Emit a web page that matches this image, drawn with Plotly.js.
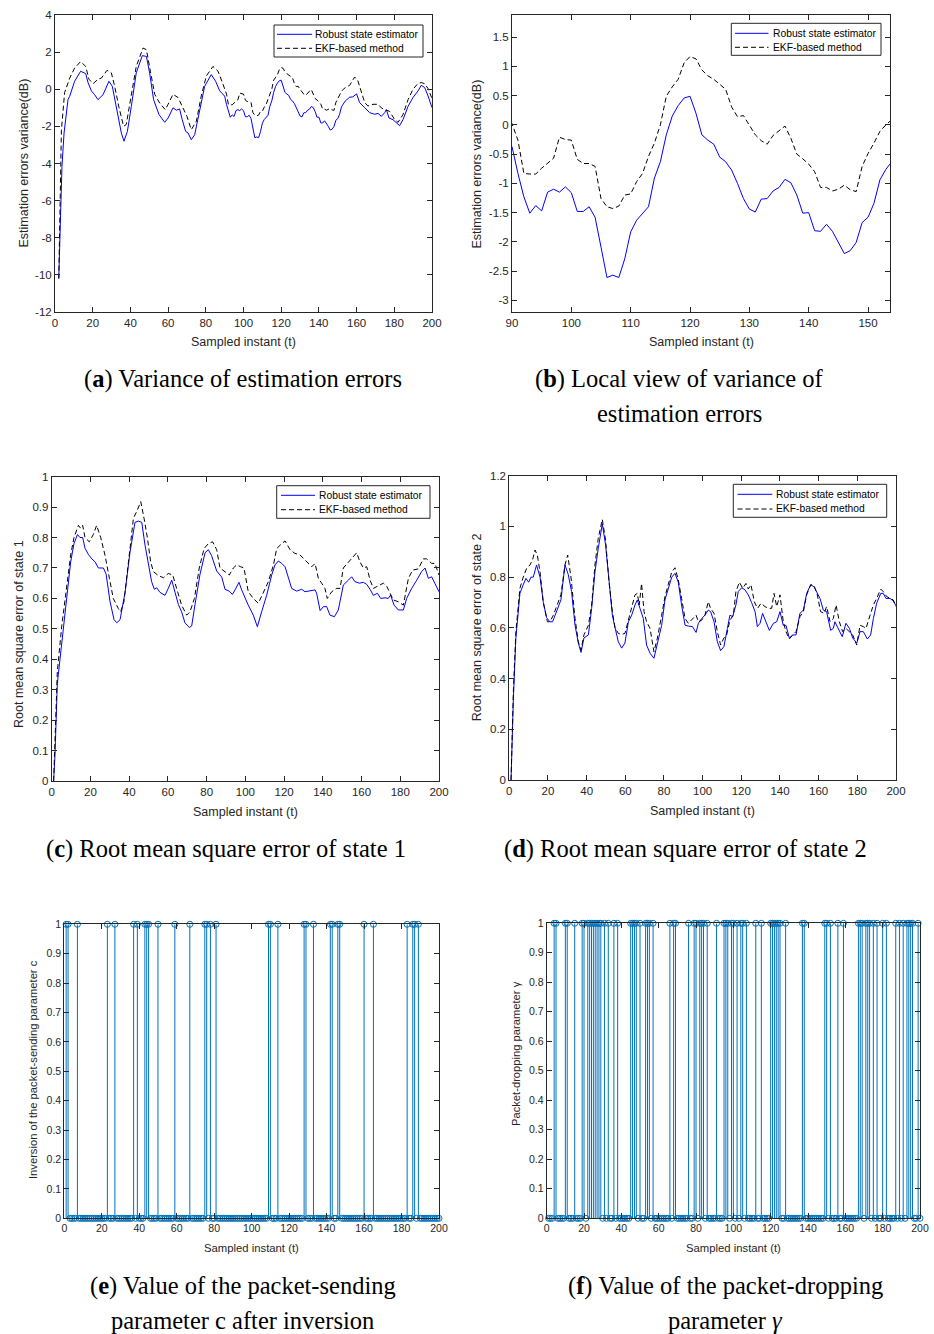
<!DOCTYPE html>
<html><head><meta charset="utf-8">
<script src="https://cdn.plot.ly/plotly-3.0.1.min.js"></script>
<style>html,body{margin:0;padding:0;background:#fff}</style>
</head><body><div id="chart" style="width:934px;height:1334px"></div>
<script>
// ---------- (a)/(b) variance of estimation errors (dB) ----------
const varRobustT = [
2, 3.7, 4.8, 6.9, 7.8, 10.4, 13.6, 16.3, 17.5, 19.3,
21, 22.8, 25.5, 28.6, 30.4, 32.9, 35.2, 36.6, 38.4, 40.5,
43.1, 46.3, 48.5, 50.2, 52.3, 55.2, 58.2, 60, 62.6, 64.4,
66.1, 67.5, 69.3, 70.6, 72.3, 74.1, 76.7, 79.4, 82.9, 85.2,
87.4, 89.5,
90, 91, 92, 93, 94, 95, 96, 97, 98, 99,
100, 101, 102, 103, 104, 105, 106, 107, 108, 109,
110, 111, 112, 113, 114, 115, 116, 117, 118, 119,
120, 121, 122, 123, 124, 125, 126, 127, 128, 129,
130, 131, 132, 133, 134, 135, 136, 137, 138, 139,
140, 141, 142, 143, 144, 145, 146, 147, 148, 149,
150, 151, 152, 153, 154,
156.3, 158, 160, 161.6, 164.3, 166.9, 169.6, 171.4, 173.1, 174.9,
175.8, 177.2, 179.3, 181.1, 182.8, 184.6, 187.3, 189.9, 192.6, 194.3,
196.1, 197.9, 200];
const varRobustY = [
-10.2, -4.15, -2.36, -0.56, -0.38, 0.43, 0.97, 0.84, 0.37, -0.09,
-0.29, -0.56, -0.29, 0.43, 0.16, -1.1, -2.36, -2.8, -2.27, -0.92,
0.88, 1.81, 1.77, 0.88, -0.56, -1.37, -1.78, -1.55, -1.0, -1.13,
-1.06, -1.64, -2.27, -2.36, -2.72, -2.45, -1.1, 0.16, 0.79, 0.43,
-0.09, -0.36,
-0.37, -0.83, -1.23, -1.51, -1.38, -1.47, -1.15, -1.10, -1.15, -1.06,
-1.16, -1.48, -1.48, -1.40, -1.58, -2.09, -2.61, -2.57, -2.61, -2.29,
-1.83, -1.63, -1.51, -1.40, -0.91, -0.63, -0.17, 0.15, 0.33, 0.46,
0.49, 0.2, -0.17, -0.26, -0.33, -0.55, -0.63, -0.77, -1.0, -1.26,
-1.44, -1.49, -1.27, -1.26, -1.13, -1.07, -0.93, -0.99, -1.2, -1.51,
-1.50, -1.81, -1.82, -1.70, -1.82, -2.0, -2.2, -2.15, -2.01, -1.67,
-1.58, -1.34, -0.94, -0.76, -0.63,
-0.43, -0.41, -0.25, -0.72, -0.99, -1.26, -1.35, -1.30, -1.46, -1.26,
-1.1, -1.55, -1.64, -1.82, -1.96, -1.64, -0.92, -0.45, -0.09, 0.21,
0.09, -0.36, -0.99];
const varEkfT = [
2, 3, 3.4, 5.1, 7.8, 10.4, 13.6, 16.3, 18, 20.2,
22.8, 24.6, 27.6, 29.9, 31.7, 34, 36.4, 37.8, 40.5, 43.1,
46.7, 48.5, 50.6, 52.9, 55.5, 58.5, 59.9, 62.6, 65.3, 67.6,
70, 72.3, 75, 77.6, 80.3, 83.8, 86.5, 88.8,
90, 91, 92, 93, 94, 95, 96, 97, 98, 99,
100, 101, 102, 103, 104, 105, 106, 107, 108, 109,
110, 111, 112, 113, 114, 115, 116, 117, 118, 119,
120, 121, 122, 123, 124, 125, 126, 127, 128, 129,
130, 131, 132, 133, 134, 135, 136, 137, 138, 139,
140, 141, 142, 143, 144, 145, 146, 147, 148, 149,
150, 151, 152, 153, 154,
156.3, 159, 160.7, 162.5, 164.3, 166, 168.7, 171.4, 173.1, 174.9,
177.5, 180.2, 182, 184.6, 187.3, 189.9, 192.6, 194.3, 196.1, 197.9, 200];
const varEkfY = [
-10.2, -4.15, -2.2, -0.18, 0.6, 1.14, 1.49, 1.23, 0.54, 0.3,
0.54, 0.6, 1.02, 0.88, 0.14, -1.0, -2.0, -1.9, -0.36, 1.23,
2.22, 2.13, 0.97, -0.27, -0.74, -1.1, -0.83, -0.27, -0.45, -0.92,
-1.46, -2.18, -1.72, -0.36, 0.72, 1.23, 0.97, 0.36,
0.02, -0.26, -0.83, -0.84, -0.84, -0.74, -0.66, -0.57, -0.21, -0.25,
-0.26, -0.59, -0.66, -0.66, -0.71, -1.26, -1.4, -1.43, -1.39, -1.2,
-1.18, -0.97, -0.83, -0.54, -0.31, 0, 0.49, 0.65, 0.78, 1.06,
1.17, 1.13, 0.94, 0.84, 0.78, 0.69, 0.61, 0.31, 0.14, 0.16,
0, -0.17, -0.27, -0.33, -0.18, -0.10, -0.02, -0.23, -0.5, -0.58,
-0.67, -0.8, -1.07, -1.07, -1.13, -1.10, -1.03, -1.11, -1.14, -0.71,
-0.49, -0.31, -0.11, 0, 0.09,
0.21, 0.66, 0.45, -0.18, -0.72, -0.9, -0.81, -0.81, -1.0, -1.1,
-1.19, -1.64, -1.78, -1.37, -0.56, 0, 0.32, 0.36, 0.3, 0.04, -0.5];

// ---------- (c) RMSE of state 1 ----------
const rmse1RobustT = [
1, 1.7, 2.9, 5.2, 7.7, 9.8, 11.5, 13.3, 14.6, 16,
17.2, 18.9, 20.7, 22.4, 24.1, 26.7, 28.1, 30.1, 32.2, 33.6,
35.3, 37.9, 40.4, 43, 44.8, 46.5, 48.2, 49.9, 51.6, 53,
54.2, 55.9, 58.5, 60.2, 62, 63.7, 65.4, 67.1, 68.8, 71.1,
72.3, 74, 76.6, 79.2, 80.9, 82.6, 85.2, 87.8, 89.5, 91.7,
93.3, 94.7, 96.7, 98.1, 99.8, 101.5, 104.1, 106.2, 108.4, 111,
113.6, 115.3, 117, 118.8, 120.5, 122.2, 123.9, 126.5, 129.1, 130.8,
133.4, 136, 136.8, 138.6, 140.3, 142, 143.7, 146, 148, 150.6,
153.2, 154.9, 156.6, 158.9, 160.9, 162.7, 164.4, 166.1, 168.2, 169.9,
172.1, 173.8, 175, 176.8, 179, 181.6, 183.3, 185.9, 188.5, 191,
192.8, 194.5, 196.2, 197.9, 200];
const rmse1RobustY = [
0, 0.085, 0.32, 0.45, 0.6, 0.72, 0.78, 0.81, 0.80, 0.80,
0.765, 0.745, 0.73, 0.72, 0.70, 0.70, 0.68, 0.59, 0.53, 0.52,
0.53, 0.62, 0.75, 0.85, 0.854, 0.85, 0.775, 0.71, 0.655, 0.63,
0.635, 0.62, 0.61, 0.633, 0.66, 0.62, 0.58, 0.556, 0.52, 0.504,
0.51, 0.58, 0.68, 0.75, 0.76, 0.74, 0.69, 0.67, 0.63, 0.624,
0.613, 0.628, 0.653, 0.628, 0.60, 0.578, 0.545, 0.507, 0.556, 0.61,
0.677, 0.71, 0.723, 0.715, 0.704, 0.666, 0.633, 0.624, 0.63, 0.622,
0.624, 0.628, 0.617, 0.56, 0.573, 0.573, 0.545, 0.54, 0.562, 0.644,
0.66, 0.671, 0.655, 0.65, 0.653, 0.646, 0.63, 0.61, 0.617, 0.60,
0.602, 0.60, 0.611, 0.578, 0.562, 0.562, 0.60, 0.633, 0.66, 0.688,
0.70, 0.666, 0.671, 0.65, 0.622];
const rmse1EkfT = [
1, 1.7, 2.9, 5.2, 7.7, 9.8, 11.5, 13.8, 15, 16,
17.2, 19.4, 21.5, 23.2, 25.3, 27.5, 29.8, 31.8, 34.4, 35.6,
37.3, 39.6, 42.2, 44.2, 46, 47.7, 49.4, 51.1, 52.5, 55.1,
57.7, 60.2, 62.5, 64.5, 67.1, 69.7, 71.4, 73.7, 76.2, 78.7,
80.9, 83.1, 85.2, 86.9, 89, 91.7, 93.8, 95.5, 97.6, 99.3,
101.5, 104.1, 106.7, 109.3, 111.9, 114.5, 116.2, 118.8, 120.5, 123.1,
125.6, 128.2, 130.8, 132.5, 134.3, 136, 137.7, 139.4, 141.1, 142.3,
144.6, 147.2, 148.9, 150.6, 153.2, 155.8, 157.5, 159.2, 160.9, 162.7,
164.4, 166.1, 168.7, 171.3, 173, 174.7, 176.4, 179, 181.6, 184.2,
186.4, 189.3, 191.9, 193.6, 196.2, 197.9, 200];
const rmse1EkfY = [
0, 0.16, 0.36, 0.51, 0.633, 0.743, 0.80, 0.84, 0.83, 0.84,
0.80, 0.786, 0.81, 0.84, 0.80, 0.743, 0.666, 0.60, 0.567, 0.556,
0.589, 0.71, 0.863, 0.89, 0.918, 0.863, 0.80, 0.72, 0.688, 0.675,
0.668, 0.682, 0.677, 0.633, 0.578, 0.545, 0.556, 0.60, 0.70, 0.764,
0.78, 0.786, 0.76, 0.70, 0.69, 0.677, 0.70, 0.71, 0.704, 0.70,
0.622, 0.60, 0.584, 0.617, 0.655, 0.71, 0.764, 0.78, 0.789, 0.76,
0.748, 0.743, 0.726, 0.715, 0.704, 0.715, 0.666, 0.65, 0.633, 0.60,
0.622, 0.633, 0.633, 0.70, 0.72, 0.737, 0.75, 0.72, 0.70, 0.704,
0.66, 0.633, 0.642, 0.65, 0.64, 0.617, 0.595, 0.589, 0.578, 0.666,
0.693, 0.697, 0.73, 0.73, 0.715, 0.715, 0.677];

// ---------- (d) RMSE of state 2 ----------
const rmse2RobustT = [
0.9, 2.1, 3.4, 5.5, 7.2, 8.6, 10, 11.2, 12.4, 14.1,
15.9, 17.6, 19.3, 21, 22.4, 24.5, 26.7, 28.8, 30.5, 32.2,
34, 35.7, 37.1, 38.6, 40.9, 42.6, 44.3, 46, 48.1, 49.8,
51.6, 53.3, 54.7, 56.4, 58.1, 59.8, 61.6, 63.3, 65, 66.2,
67.6, 69.3, 71, 72.8, 74.8, 76.6, 78.8, 80.5, 82.2, 84,
85.7, 87.4, 89.1, 90.9, 92.6, 94.7, 96.6, 97.8, 99.5, 101.2,
102.9, 104.1, 105.9, 107.6, 109.3, 111, 112.8, 114.1, 115.5, 117.2,
118.4, 120.2, 121.9, 123.6, 125.3, 127.1, 128.3, 129.7, 131, 132.8,
134.5, 136.6, 138.3, 140, 141.7, 143.1, 144.8, 146.6, 148.3, 150.3,
152.1, 153.8, 155.9, 157.6, 159.3, 160.7, 162.4, 164.1, 166.2, 167.6,
168.4, 170.2, 172.2, 174.1, 175.9, 177.6, 179.7, 181.4, 183.1, 185.2,
186.9, 188.3, 190, 192.1, 193.4, 194.8, 196.9, 198.6, 200];
const rmse2RobustY = [
0, 0.32, 0.56, 0.736, 0.77, 0.795, 0.78, 0.80, 0.80, 0.848,
0.80, 0.70, 0.64, 0.624, 0.624, 0.67, 0.71, 0.848, 0.81, 0.743,
0.61, 0.54, 0.503, 0.56, 0.572, 0.677, 0.82, 0.913, 1.01, 0.927,
0.77, 0.65, 0.60, 0.545, 0.52, 0.54, 0.624, 0.65, 0.69, 0.71,
0.677, 0.637, 0.532, 0.50, 0.48, 0.54, 0.61, 0.71, 0.75, 0.80,
0.815, 0.78, 0.69, 0.61, 0.607, 0.605, 0.582, 0.618, 0.637, 0.65,
0.67, 0.664, 0.624, 0.545, 0.51, 0.526, 0.598, 0.65, 0.644, 0.69,
0.743, 0.758, 0.75, 0.73, 0.70, 0.664, 0.605, 0.618, 0.657, 0.624,
0.59, 0.618, 0.624, 0.664, 0.61, 0.61, 0.56, 0.572, 0.572, 0.657,
0.67, 0.736, 0.77, 0.762, 0.736, 0.716, 0.67, 0.664, 0.59, 0.598,
0.624, 0.598, 0.565, 0.618, 0.598, 0.56, 0.54, 0.585, 0.585, 0.556,
0.572, 0.637, 0.697, 0.736, 0.736, 0.716, 0.716, 0.706, 0.687];
const rmse2EkfT = [
0.9, 2.1, 3.4, 5.5, 7.2, 9, 10.7, 12.1, 13.3, 14.5,
15.9, 17.6, 19.7, 21, 22.8, 24.8, 26.7, 28.8, 30.2, 31.9,
34, 35.7, 37.1, 38.6, 40.9, 42.6, 44.3, 46, 48.1, 49.8,
51.6, 53.3, 54.7, 56.4, 58.1, 59.8, 61.6, 63.3, 65, 66.2,
67.2, 68.4, 69.7, 71, 72.8, 74.8, 76.6, 78.8, 80.5, 82.2,
84, 85.7, 87.4, 89.1, 90.9, 92.6, 94.7, 96.6, 97.8, 99.5,
101.2, 102.9, 104.1, 105.9, 107.6, 109.3, 111, 112.4, 114.1, 115.9,
117.2, 119, 120.7, 122.4, 123.6, 125, 126.7, 128.4, 130.2, 132.2,
134, 135.7, 136.9, 138.3, 140, 141.7, 143.1, 144.8, 146.6, 148.3,
150.3, 152.1, 153.8, 155.9, 157.6, 159.3, 161, 162.8, 164.1, 165.9,
167.6, 169, 170.7, 172.4, 174.1, 175.9, 177.6, 179.7, 181.4, 183.1,
184.5, 186.6, 188.3, 190, 192.1, 193.4, 195.2, 197.2, 198.6, 200];
const rmse2EkfY = [
0, 0.35, 0.585, 0.756, 0.80, 0.835, 0.848, 0.87, 0.907, 0.887,
0.82, 0.70, 0.624, 0.624, 0.65, 0.69, 0.73, 0.848, 0.887, 0.80,
0.637, 0.545, 0.513, 0.572, 0.61, 0.69, 0.848, 0.953, 1.028, 0.946,
0.78, 0.664, 0.60, 0.578, 0.574, 0.578, 0.63, 0.69, 0.73, 0.736,
0.69, 0.775, 0.664, 0.624, 0.598, 0.506, 0.56, 0.65, 0.723, 0.77,
0.82, 0.837, 0.79, 0.716, 0.637, 0.618, 0.637, 0.65, 0.624, 0.63,
0.65, 0.703, 0.677, 0.657, 0.585, 0.532, 0.56, 0.572, 0.63, 0.65,
0.743, 0.78, 0.756, 0.775, 0.753, 0.77, 0.703, 0.677, 0.697, 0.684,
0.677, 0.677, 0.736, 0.684, 0.73, 0.624, 0.585, 0.556, 0.572, 0.585,
0.644, 0.664, 0.73, 0.77, 0.767, 0.73, 0.664, 0.657, 0.684, 0.624,
0.637, 0.69, 0.624, 0.585, 0.598, 0.585, 0.572, 0.532, 0.61, 0.605,
0.598, 0.65, 0.69, 0.716, 0.753, 0.743, 0.723, 0.716, 0.71, 0.684];

// ---------- (e)/(f) stem data: sampled instants whose value is 1 (all others 0) ----------
const sampleFirst = 1, sampleLast = 200;
const sendingOnes = [1, 2, 7, 23, 27, 37, 39, 43, 44, 45, 50, 59, 67, 75, 76, 78, 81,
  109, 110, 114, 128, 129, 133, 142, 143, 146, 147, 160, 165, 183, 186, 187, 189];
const droppingOnes = [4, 5, 10, 11, 15, 19, 20, 22, 23, 24, 25, 26, 27, 28, 29, 31, 33, 36, 38,
  45, 46, 47, 48, 50, 53, 54, 55, 57, 66, 68, 69, 76, 79, 80, 82, 83, 84, 86, 91, 95, 96, 97,
  99, 100, 102, 104, 105, 107, 112, 115, 120, 121, 122, 123, 124, 125, 128, 137, 138, 149, 150,
  152, 156, 159, 167, 168, 169, 171, 172, 173, 175, 177, 180, 182, 187, 189, 191, 193, 194, 195, 196, 199];

// ---------- tick labels ----------
const tick200Vals = [0, 20, 40, 60, 80, 100, 120, 140, 160, 180, 200];
const tick200Text = ['0','20','40','60','80','100','120','140','160','180','200'];
const varYVals = [-12, -10, -8, -6, -4, -2, 0, 2, 4];
const varYText = ['-12','-10','-8','-6','-4','-2','0','2','4'];
const zoomXVals = [90, 100, 110, 120, 130, 140, 150];
const zoomXText = ['90','100','110','120','130','140','150'];
const zoomYVals = [-3, -2.5, -2, -1.5, -1, -0.5, 0, 0.5, 1, 1.5];
const zoomYText = ['-3','-2.5','-2','-1.5','-1','-0.5','0','0.5','1','1.5'];
const unitYVals = [0, 0.1, 0.2, 0.3, 0.4, 0.5, 0.6, 0.7, 0.8, 0.9, 1];
const unitYText = ['0','0.1','0.2','0.3','0.4','0.5','0.6','0.7','0.8','0.9','1'];
const rmse2YVals = [0, 0.2, 0.4, 0.6, 0.8, 1, 1.2];
const rmse2YText = ['0','0.2','0.4','0.6','0.8','1','1.2'];

const seriesNames = ['Robust state estimator', 'EKF-based method'];

// ---------- layout helpers ----------
const W = 934, H = 1334;
const px = v => v / W;
const py = v => 1 - v / H;
const SANS = 'Liberation Sans, Arial, Helvetica, sans-serif';
const SERIF = 'Liberation Serif, Times New Roman, serif';
const AXC = '#262626';
const BLUE = '#0000ff', EKF_DASH = '5px,3px';

function axis(anchor, domain, range, vals, text, fs) {
  return {anchor: anchor, domain: domain, range: range, autorange: false, tickmode: 'array', tickvals: vals, ticktext: text,
    showline: true, mirror: 'ticks', linecolor: AXC, linewidth: 1, ticks: 'inside', ticklen: 5,
    tickwidth: 1, tickcolor: AXC, showgrid: false, zeroline: false, fixedrange: true,
    tickfont: {family: SANS, size: fs, color: AXC}};
}
function lineTraces(tR, yR, tE, yE, xa, ya) {
  return [
    {x: tR, y: yR, xaxis: xa, yaxis: ya, mode: 'lines', name: seriesNames[0], showlegend: false,
      line: {color: BLUE, width: 1}, hoverinfo: 'skip'},
    {x: tE, y: yE, xaxis: xa, yaxis: ya, mode: 'lines', name: seriesNames[1], showlegend: false,
      line: {color: '#000000', width: 1, dash: EKF_DASH}, hoverinfo: 'skip'}
  ];
}
function stemTraces(ones, xa, ya) {
  const t = [], v = [], sx = [], sy = [];
  for (let k = sampleFirst; k <= sampleLast; k++) {
    const val = ones.includes(k) ? 1 : 0;
    t.push(k); v.push(val);
    if (val) { sx.push(k, k, null); sy.push(0, val, null); }
  }
  return [
    {x: sx, y: sy, xaxis: xa, yaxis: ya, mode: 'lines', showlegend: false, hoverinfo: 'skip',
      line: {color: '#0072BD', width: 1}, cliponaxis: false},
    {x: t, y: v, xaxis: xa, yaxis: ya, mode: 'markers', showlegend: false, hoverinfo: 'skip',
      marker: {symbol: 'circle-open', size: 6, color: '#0072BD', line: {width: 1, color: '#0072BD'}},
      cliponaxis: false}
  ];
}

const data = [].concat(
  lineTraces(varRobustT, varRobustY, varEkfT, varEkfY, 'x', 'y'),
  lineTraces(varRobustT, varRobustY, varEkfT, varEkfY, 'x2', 'y2'),
  lineTraces(rmse1RobustT, rmse1RobustY, rmse1EkfT, rmse1EkfY, 'x3', 'y3'),
  lineTraces(rmse2RobustT, rmse2RobustY, rmse2EkfT, rmse2EkfY, 'x4', 'y4'),
  stemTraces(sendingOnes, 'x5', 'y5'),
  stemTraces(droppingOnes, 'x6', 'y6')
);

function note(text, x, y, size, family, angle, xanchor) {
  return {text: text, x: px(x), y: py(y), xref: 'paper', yref: 'paper', xanchor: xanchor || 'center', yanchor: 'middle',
    showarrow: false, textangle: angle || 0,
    font: {family: family, size: size, color: family === SERIF ? '#000' : AXC}};
}

const annotations = [
  // axis titles
  note('Sampled instant (t)', 243.5, 342, 12.5, SANS),
  note('Estimation errors variance(dB)', 23, 163.5, 12.5, SANS, -90),
  note('Sampled instant (t)', 701, 342, 12.5, SANS),
  note('Estimation errors variance(dB)', 476, 163.5, 12.5, SANS, -90),
  note('Sampled instant (t)', 245.3, 811.5, 12.5, SANS),
  note('Root mean square error of state 1', 19, 634, 12.5, SANS, -90),
  note('Sampled instant (t)', 702.7, 810.5, 12.5, SANS),
  note('Root mean square error of state 2', 476.7, 627.5, 12.5, SANS, -90),
  note('Sampled instant (t)', 251.7, 1248, 11.3, SANS),
  note('Inversion of the packet-sending parameter c', 33, 1070, 11.2, SANS, -90),
  note('Sampled instant (t)', 733.3, 1248, 11.3, SANS),
  note('Packet-dropping parameter γ', 516, 1054, 11.2, SANS, -90),
  // captions
  note('(<b>a</b>) Variance of estimation errors', 243, 379, 24.5, SERIF),
  note('(<b>b</b>) Local view of variance of', 679, 379, 24.5, SERIF),
  note('estimation errors', 679.5, 413, 24.5, SERIF),
  note('(<b>c</b>) Root mean square error of state 1', 225.5, 849, 24.5, SERIF),
  note('(<b>d</b>) Root mean square error of state 2', 685, 849, 24.5, SERIF),
  note('(<b>e</b>) Value of the packet-sending', 242.5, 1286, 24.5, SERIF),
  note('parameter c after inversion', 242.5, 1320, 24.5, SERIF),
  note('(<b>f</b>) Value of the packet-dropping', 725, 1286, 24.5, SERIF),
  note('parameter <i>γ</i>', 725, 1320, 24.5, SERIF)
];

// MATLAB-style legend boxes (box, two line samples, two labels)
const shapes = [];
function legendBox(left, top, right, bottom, lineX0, lineX1, textX, row1, row2) {
  shapes.push({type: 'rect', xref: 'paper', yref: 'paper', x0: px(left), x1: px(right), y0: py(bottom), y1: py(top),
    line: {color: AXC, width: 1}, fillcolor: '#ffffff', layer: 'above'});
  shapes.push({type: 'line', xref: 'paper', yref: 'paper', x0: px(lineX0), x1: px(lineX1), y0: py(row1), y1: py(row1),
    line: {color: BLUE, width: 1}, layer: 'above'});
  shapes.push({type: 'line', xref: 'paper', yref: 'paper', x0: px(lineX0), x1: px(lineX1), y0: py(row2), y1: py(row2),
    line: {color: '#000', width: 1, dash: EKF_DASH}, layer: 'above'});
  annotations.push(note(seriesNames[0], textX, row1, 10.3, SANS, 0, 'left'));
  annotations.push(note(seriesNames[1], textX, row2, 10.3, SANS, 0, 'left'));
}
legendBox(274, 25, 423, 57, 277, 312, 313, 34.3, 48.3);
legendBox(731.3, 23.3, 881, 55.3, 735, 768.5, 770.5, 33.3, 47.3);
legendBox(276.7, 485.7, 430, 518.3, 281, 315, 317, 495.3, 509.7);
legendBox(733.3, 484.3, 886.7, 517.3, 737.5, 772.3, 774, 494.3, 509);
annotations.forEach(a => { if (a.font.size === 10.3) a.font.color = '#000'; });

const layout = {
  width: W, height: H, margin: {l: 0, r: 0, t: 0, b: 0},
  paper_bgcolor: '#ffffff', plot_bgcolor: '#ffffff', showlegend: false,
  font: {family: SANS, color: AXC},
  xaxis:  axis('y',  [px(55), px(432)], [0, 200], tick200Vals, tick200Text, 11.5),
  yaxis:  axis('x',  [py(312), py(15)], [-12, 4], varYVals, varYText, 11.5),
  xaxis2: axis('y2', [px(512), px(890)], [90, 153.7], zoomXVals, zoomXText, 11.5),
  yaxis2: axis('x2', [py(312), py(15)], [-3.2, 1.88], zoomYVals, zoomYText, 11.5),
  xaxis3: axis('y3', [px(51.7), px(439)], [0, 200], tick200Vals, tick200Text, 11.5),
  yaxis3: axis('x3', [py(781), py(476.7)], [0, 1], unitYVals, unitYText, 11.5),
  xaxis4: axis('y4', [px(509.3), px(896)], [0, 200], tick200Vals, tick200Text, 11.5),
  yaxis4: axis('x4', [py(780), py(475.7)], [0, 1.2], rmse2YVals, rmse2YText, 11.5),
  xaxis5: axis('y5', [px(64.3), px(439)], [0, 200], tick200Vals, tick200Text, 10.5),
  yaxis5: axis('x5', [py(1218.3), py(924.3)], [0, 1], unitYVals, unitYText, 10.5),
  xaxis6: axis('y6', [px(546.7), px(920)], [0, 200], tick200Vals, tick200Text, 10.5),
  yaxis6: axis('x6', [py(1218.3), py(923.3)], [0, 1], unitYVals, unitYText, 10.5),
  shapes: shapes,
  annotations: annotations
};

Plotly.newPlot('chart', data, layout, {staticPlot: true, displayModeBar: false});
</script>
</body></html>
